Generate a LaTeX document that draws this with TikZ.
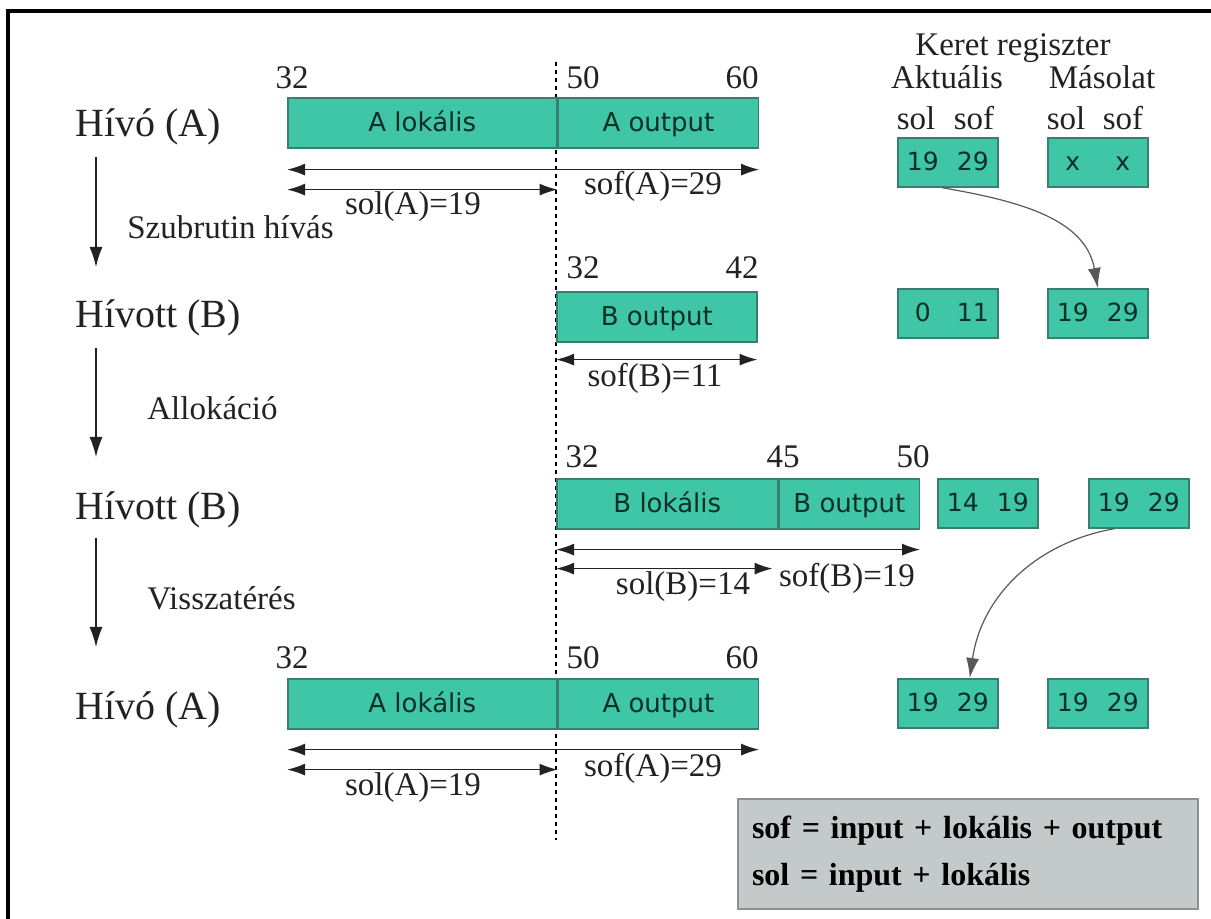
\documentclass[tikz,border=0pt]{standalone}
\usepackage{fontspec}
\setmainfont{Liberation Serif}
\newfontfamily\boxfont{DejaVu Sans}
\usetikzlibrary{positioning,arrows.meta}
\definecolor{regteal}{HTML}{3EC6A6}
\definecolor{regedge}{HTML}{3A7E70}
\definecolor{regtext}{HTML}{0E2E28}
\definecolor{notegray}{HTML}{C4C9CA}
\definecolor{noteedge}{HTML}{8C9192}
\definecolor{inkgray}{HTML}{222222}
\newcommand{\regpair}[2]{\makebox[25pt]{#1}\makebox[25pt]{#2}}

\begin{document}
\begin{tikzpicture}[x=0.5pt, y=-0.5pt,
    bar/.style={draw=regedge, fill=regteal, line width=0.8pt, minimum height=25pt, inner sep=0pt,
      anchor=north west, text height=9.5pt, text depth=1pt,
      font=\boxfont\fontsize{13}{15}\selectfont, text=regtext},
    reg/.style={bar, minimum width=50pt, minimum height=24.5pt, text height=9pt,
      font=\boxfont\fontsize{12.5}{14}\selectfont},
    stage/.style={anchor=west, inner sep=0pt, font=\fontsize{20}{24}\selectfont, text=inkgray},
    txt/.style={inner sep=0pt, font=\fontsize{16.5}{20}\selectfont, text=inkgray},
    dim/.style={{Latex[length=9pt,width=6pt]}-{Latex[length=9pt,width=6pt]}, line width=0.8pt, draw=inkgray},
    flow/.style={-{Latex[length=10pt,width=6.5pt]}, line width=0.7pt, draw=inkgray},
    copyarrow/.style={-{Latex[length=10pt,width=6.5pt]}, line width=0.6pt, draw=black!65}]
  \useasboundingbox (0,0) rectangle (1211,919);
  \draw[line width=1.6pt] (1211,11) -- (8,11) -- (8,919);

  \coordinate (dtop) at (556,62);
  \coordinate (dbot) at (556,840);
  \draw[line width=1pt, dash pattern=on 2pt off 2pt] (dtop) -- (dbot);

  % left column
  \node[stage] (hA1) at (75,127) {Hívó (A)};
  \node[stage] (hB2) at (75,318) {Hívott (B)};
  \node[stage] (hB3) at (75,510) {Hívott (B)};
  \node[stage] (hA4) at (75,710) {Hívó (A)};
  \coordinate (s1) at (96,157); \coordinate (e1) at (96,267);
  \coordinate (s2) at (96,348); \coordinate (e2) at (96,457);
  \coordinate (s3) at (96,538); \coordinate (e3) at (96,647);
  \draw[flow] (s1) -- (e1);
  \draw[flow] (s2) -- (e2);
  \draw[flow] (s3) -- (e3);
  \node[txt, anchor=west] (call) at (127,227) {Szubrutin hívás};
  \node[txt, anchor=west] (alloc) at (147,408) {Allokáció};
  \node[txt, anchor=west] (ret) at (147,598) {Visszatérés};

  % frames
  \node[bar, minimum width=134.5pt] (alok1) at (287,97) {A lokális};
  \node[bar, minimum width=100pt] (aout1) at (alok1.north east) {A output};
  \node[bar, minimum width=100pt] (bout2) at (556,291) {B output};
  \node[bar, minimum width=110.5pt] (blok3) at (556,478) {B lokális};
  \node[bar, minimum width=70pt] (bout3) at (blok3.north east) {B output};
  \node[bar, minimum width=134.5pt] (alok4) at (287,678) {A lokális};
  \node[bar, minimum width=100pt] (aout4) at (alok4.north east) {A output};

  \node[txt] (a32) at (292,78) {32};
  \node[txt] (a50) at (583,78) {50};
  \node[txt] (a60) at (742,78) {60};
  \node[txt] (b32) at (583,268) {32};
  \node[txt] (b42) at (742,268) {42};
  \node[txt] (c32) at (582,457) {32};
  \node[txt] (c45) at (783,457) {45};
  \node[txt] (c50) at (913,457) {50};
  \node[txt] (d32) at (292,658) {32};
  \node[txt] (d50) at (583,658) {50};
  \node[txt] (d60) at (742,658) {60};

  \draw[dim] ([yshift=-10.5pt]alok1.south west) -- ([yshift=-10.5pt]aout1.south east);
  \draw[dim] ([yshift=-20.5pt]alok1.south west) -- ([yshift=-20.5pt]alok1.south east);
  \node[txt] (sofA1) at (653,186) {sof(A)=29};
  \node[txt] (solA1) at (413,207) {sol(A)=19};
  \draw[dim] ([yshift=-8.5pt]bout2.south west) -- ([yshift=-8.5pt]bout2.south east);
  \node[txt] (sofB2) at (655,378) {sof(B)=11};
  \draw[dim] ([yshift=-10pt]blok3.south west) -- ([yshift=-10pt]bout3.south east);
  \draw[dim] ([yshift=-19.5pt]blok3.south west) -- ([yshift=-19.5pt, xshift=-3pt]blok3.south east);
  \node[txt] (solB3) at (683,587) {sol(B)=14};
  \node[txt] (sofB3) at (847,578) {sof(B)=19};
  \draw[dim] ([yshift=-10pt]alok4.south west) -- ([yshift=-10pt]aout4.south east);
  \draw[dim] ([yshift=-20pt]alok4.south west) -- ([yshift=-20pt]alok4.south east);
  \node[txt] (sofA4) at (653,768) {sof(A)=29};
  \node[txt] (solA4) at (413,788) {sol(A)=19};

  % registers
  \node[txt] (keret) at (1013,48) {Keret regiszter};
  \node[txt] (akt) at (947,77) {Aktuális};
  \node[txt] (mas) at (1102,77) {Másolat};
  \node[txt] (asol) at (916,118) {sol};
  \node[txt] (asof) at (974,118) {sof};
  \node[txt] (msol) at (1066,118) {sol};
  \node[txt] (msof) at (1123,118) {sof};
  \node[reg] (aR1) at (897,137) {\regpair{19}{29}};
  \node[reg] (mR1) at (1047,137) {\regpair{x}{x}};
  \node[reg] (aR2) at (897,288) {\regpair{0}{11}};
  \node[reg] (mR2) at (1047,288) {\regpair{19}{29}};
  \node[reg] (aR3) at (937,478) {\regpair{14}{19}};
  \node[reg] (mR3) at (1088,478) {\regpair{19}{29}};
  \node[reg] (aR4) at (897,678) {\regpair{19}{29}};
  \node[reg] (mR4) at (1047,678) {\regpair{19}{29}};
  \draw[copyarrow] ([xshift=-3pt]aR1.south) to[out=-10, in=100] (mR2.north);
  \draw[copyarrow] ([xshift=-12pt]mR3.south) to[out=190, in=82] ([xshift=11pt]aR4.north);

  \node[draw=noteedge, fill=notegray, line width=1pt, anchor=north west, minimum width=230pt,
    minimum height=55pt, text width=216pt, inner xsep=7pt, align=left,
    font=\bfseries\fontsize{16}{23.5}\selectfont, text=black] (note) at (737,798)
    {sof = input + lokális + output\\ sol = input + lokális};
\end{tikzpicture}
\end{document}
